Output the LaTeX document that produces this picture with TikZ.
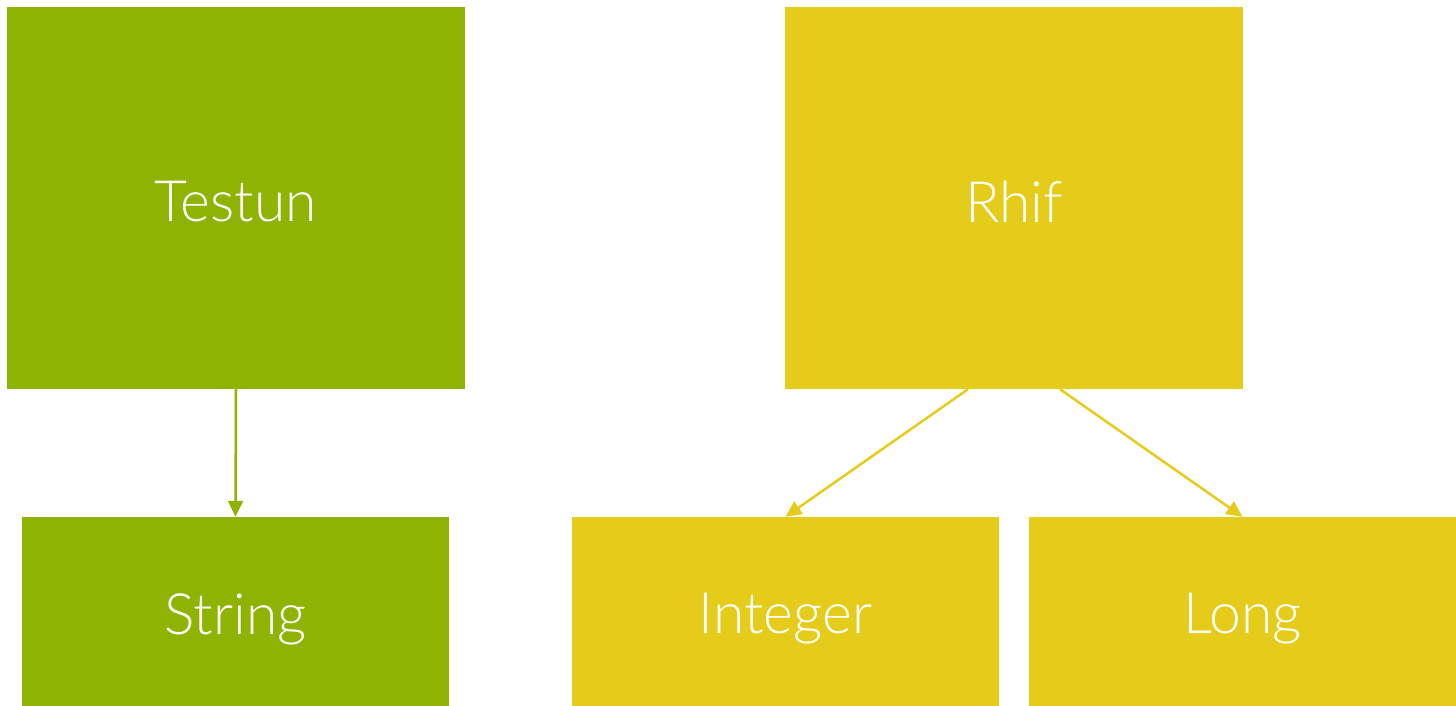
\documentclass[tikz,border=0pt]{standalone}
\usepackage{fontspec}
\setmainfont{Lato}[UprightFont=* Light]
\usetikzlibrary{arrows.meta}
\definecolor{tgreen}{HTML}{8FB303}
\definecolor{tyellow}{HTML}{E5CC1B}
\newcommand{\lbl}[1]{\raisebox{-4pt}[\height][\depth]{#1}}
\tikzset{
  box/.style={rectangle, inner sep=0pt, text=white, font=\fontsize{57}{64}\selectfont},
  gbox/.style={box, fill=tgreen},
  ybox/.style={box, fill=tyellow},
  conn/.style={line width=2.5pt, -{Triangle[width=15pt,length=16pt]}},
}
\begin{document}
\begin{tikzpicture}[x=1pt,y=-1pt]
\useasboundingbox (0,0) rectangle (1456,706);
\clip (0,0) rectangle (1456,706);
\node[gbox, minimum width=458pt, minimum height=382pt] (testun) at (236,198) {\lbl{Testun}};
\node[gbox, minimum width=427pt, minimum height=196pt] (string) at (235.5,615) {\lbl{String}};
\node[ybox, minimum width=458pt, minimum height=382pt] (rhif) at (1014,198) {\lbl{Rhif}};
\node[ybox, minimum width=427pt, minimum height=196pt] (integer) at (785.5,615) {\lbl{Integer}};
\node[ybox, minimum width=427pt, minimum height=196pt] (long) at (1242.5,615) {\lbl{Long}};
\draw[conn, tgreen] (testun.south) -- (string.north);
\draw[conn, tyellow] ([xshift=-46pt]rhif.south) -- (integer.north);
\draw[conn, tyellow] ([xshift=46pt]rhif.south) -- (long.north);
\end{tikzpicture}
\end{document}
